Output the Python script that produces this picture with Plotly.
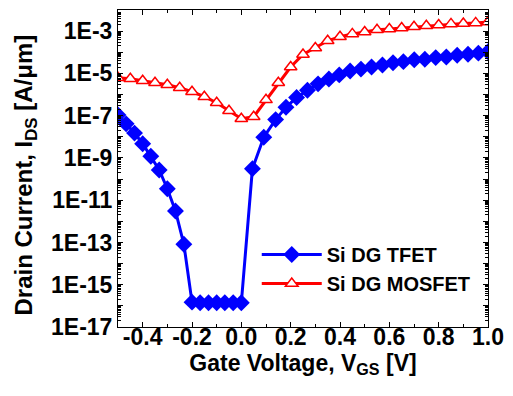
import plotly.graph_objects as go

# ---- data ----
tfet_vgs = [-0.5, -0.467, -0.433, -0.4, -0.367, -0.333, -0.3, -0.267, -0.233, -0.2,
            -0.167, -0.133, -0.1, -0.067, -0.033, 0.0,
            0.045, 0.091, 0.139, 0.181, 0.224, 0.268, 0.311, 0.355, 0.397, 0.441,
            0.485, 0.528, 0.572, 0.615, 0.657, 0.701, 0.744, 0.788, 0.831, 0.875,
            0.919, 0.961, 1.0]
tfet_ids = [1.07e-7, 4.1e-8, 1.5e-8, 4.7e-9, 1.2e-9, 2.7e-10, 3.5e-11, 3.1e-12, 8.3e-14, 1.5e-16,
            1.4e-16, 1.4e-16, 1.4e-16, 1.4e-16, 1.4e-16, 1.4e-16,
            3.1e-10, 9.5e-9, 6.5e-8, 2.5e-7, 7.2e-7, 1.6e-6, 3.2e-6, 5.4e-6, 8.5e-6, 1.3e-5,
            1.6e-5, 2.0e-5, 2.5e-5, 3.2e-5, 3.6e-5, 4.4e-5, 4.7e-5, 5.6e-5, 6.0e-5, 7.2e-5,
            8.1e-5, 9.1e-5, 1.05e-4]

mos_vgs = [-0.5, -0.45, -0.4, -0.35, -0.3, -0.25, -0.2, -0.15, -0.1, -0.05, 0.0,
           0.05, 0.1, 0.15, 0.2, 0.25, 0.3, 0.35, 0.4, 0.45, 0.5,
           0.55, 0.6, 0.65, 0.7, 0.75, 0.8, 0.85, 0.9, 0.95, 1.0]
mos_ids = [6.2e-6, 5.6e-6, 4.5e-6, 3.6e-6, 2.9e-6, 2.1e-6, 1.35e-6, 7.9e-7, 4.1e-7, 1.7e-7, 7.2e-8,
           8.9e-8, 5.6e-7, 3.6e-6, 2.0e-5, 7.9e-5, 1.6e-4, 3.5e-4, 5.4e-4, 7.4e-4, 9.1e-4,
           1.15e-3, 1.26e-3, 1.4e-3, 1.6e-3, 1.8e-3, 1.95e-3, 2.2e-3, 2.3e-3, 2.45e-3, 2.7e-3]

x_tickvals = [-0.4, -0.2, 0.0, 0.2, 0.4, 0.6, 0.8, 1.0]
x_ticktext = ["-0.4", "-0.2", "0.0", "0.2", "0.4", "0.6", "0.8", "1.0"]
y_exponents = list(range(-17, -1))
y_label_exps = [-17, -15, -13, -11, -9, -7, -5, -3]

FONT = "Arial, Liberation Sans, sans-serif"

y_tickvals = [10.0 ** e for e in y_exponents]
y_ticktext = [("<b>1E%d</b>" % e) if e in y_label_exps else "" for e in y_exponents]
x_ticktext_b = ["<b>%s</b>" % t for t in x_ticktext]
y_minor = [k * 10.0 ** e for e in y_exponents for k in range(2, 10)]

fig = go.Figure()
fig.add_trace(go.Scatter(
    x=tfet_vgs, y=tfet_ids, mode="lines+markers", name="<b>Si DG TFET</b>",
    line=dict(color="#0000ff", width=3),
    marker=dict(symbol="diamond", size=13, color="#0000ff"),
))
fig.add_trace(go.Scatter(
    x=mos_vgs, y=mos_ids, mode="lines+markers", name="<b>Si DG MOSFET</b>",
    line=dict(color="#ff0000", width=3),
    marker=dict(symbol="triangle-up", size=11, color="white",
                line=dict(color="#ff0000", width=1.5)),
))

fig.update_layout(
    width=513, height=396,
    margin=dict(l=118, r=19, t=9, b=69),
    paper_bgcolor="white", plot_bgcolor="white",
    font=dict(family=FONT, color="black"),
    showlegend=True,
    legend=dict(x=0.375, y=0.29, xanchor="left", yanchor="top",
                bgcolor="rgba(0,0,0,0)", itemwidth=60,
                font=dict(family=FONT, size=20, color="black"),
                tracegroupgap=0),
    annotations=[dict(
        text="<b>Drain Current, I<sub>DS</sub> [A/μm]</b>",
        xref="paper", yref="paper", x=0, y=0.478, xanchor="center", yanchor="middle",
        xshift=-93, textangle=-90, showarrow=False,
        font=dict(family=FONT, size=24, color="black"),
    )],
)
fig.update_xaxes(
    range=[-0.5, 1.0], tickmode="array", tickvals=x_tickvals, ticktext=x_ticktext_b,
    ticks="inside", ticklen=5, tickwidth=1, tickcolor="black",
    minor=dict(dtick=0.1, tick0=-0.5, ticks="inside", ticklen=3, tickcolor="black"),
    showline=True, linecolor="black", linewidth=1, mirror="ticks",
    showgrid=False, zeroline=False,
    tickfont=dict(family=FONT, size=23, color="black"),
    ticklabelstandoff=-11,
    title=dict(text="<b>Gate Voltage, V<sub>GS</sub> [V]</b>", standoff=0,
               font=dict(family=FONT, size=23, color="black")),
)
fig.update_yaxes(
    type="log", range=[-17, -2], tickmode="array", tickvals=y_tickvals, ticktext=y_ticktext,
    ticks="inside", ticklen=5, tickwidth=1, tickcolor="black",
    minor=dict(tickmode="array", tickvals=y_minor, ticks="inside", ticklen=3, tickcolor="black"),
    showline=True, linecolor="black", linewidth=1, mirror="ticks",
    showgrid=False, zeroline=False,
    tickfont=dict(family=FONT, size=23, color="black"),
)

fig.write_html("out.html", config={"displayModeBar": False},
               post_script="document.body.style.margin='0';document.body.style.overflow='hidden';")
